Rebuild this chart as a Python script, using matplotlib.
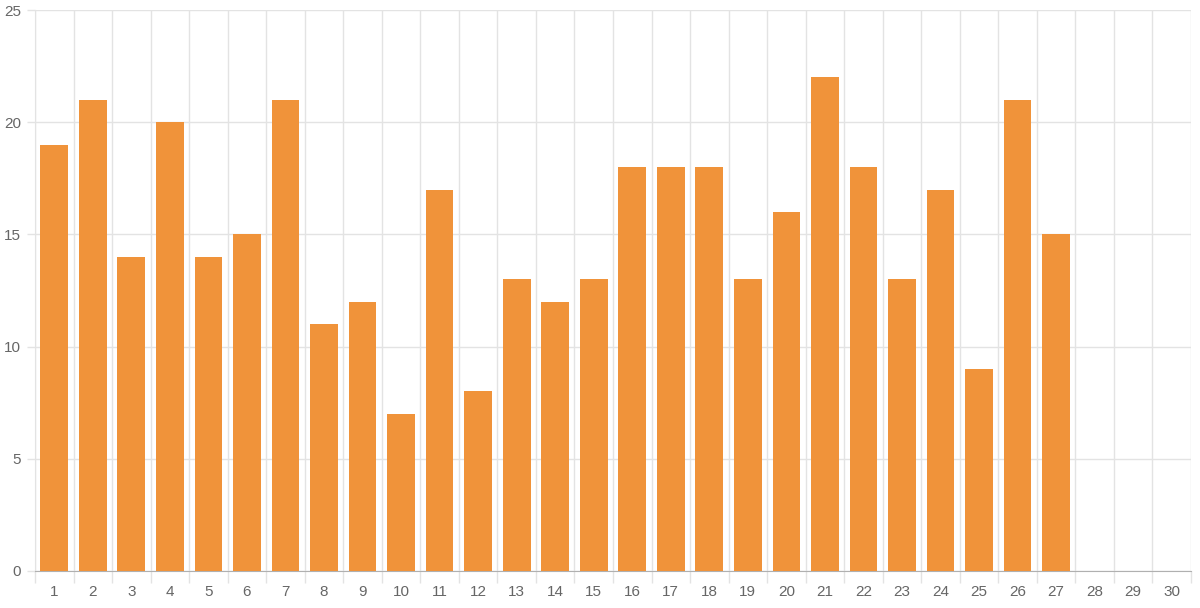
import numpy as np
import matplotlib.pyplot as plt

dias = [str(i) for i in range(1, 31)]
valores = [19, 21, 14, 20, 14, 15, 21, 11, 12, 7, 17, 8, 13, 12, 13,
           18, 18, 18, 13, 16, 22, 18, 13, 17, 9, 21, 15, None, None, None]
y_ticks = [0, 5, 10, 15, 20, 25]

plt.rcParams['font.family'] = ['Liberation Sans', 'DejaVu Sans']

fig = plt.figure(figsize=(12, 6.08), dpi=100)
ax = fig.add_axes([35 / 1200, 1 - 571 / 608, (1191 - 35) / 1200, (571 - 10) / 608])

x = np.arange(len(dias))
alturas = [v if v is not None else 0 for v in valores]
ax.bar(x, alturas, width=0.72, color='#F0933A', zorder=3)

ax.set_xlim(-0.5, len(dias) - 0.5)
ax.set_ylim(0, 25)

ax.set_xticks(x)
ax.set_xticklabels(dias)
ax.set_xticks(np.arange(-0.5, len(dias)), minor=True)
ax.set_yticks(y_ticks)

grid_color = '#e3e3e3'
ax.grid(False)
ax.xaxis.grid(True, which='minor', color=grid_color, linewidth=1, zorder=0)
ax.yaxis.grid(True, which='major', color=grid_color, linewidth=1, zorder=0)

ax.tick_params(axis='x', which='major', length=0, pad=10, labelsize=11, labelcolor='#666666')
ax.tick_params(axis='x', which='minor', length=8.5, width=1, color=grid_color)
ax.tick_params(axis='y', length=6, width=1, color=grid_color, pad=4,
               labelsize=11, labelcolor='#666666')

for s in ['top', 'right']:
    ax.spines[s].set_visible(False)
ax.spines['left'].set_color(grid_color)
ax.spines['bottom'].set_color('#b0b0b0')

fig.savefig('out.png', dpi=100)
